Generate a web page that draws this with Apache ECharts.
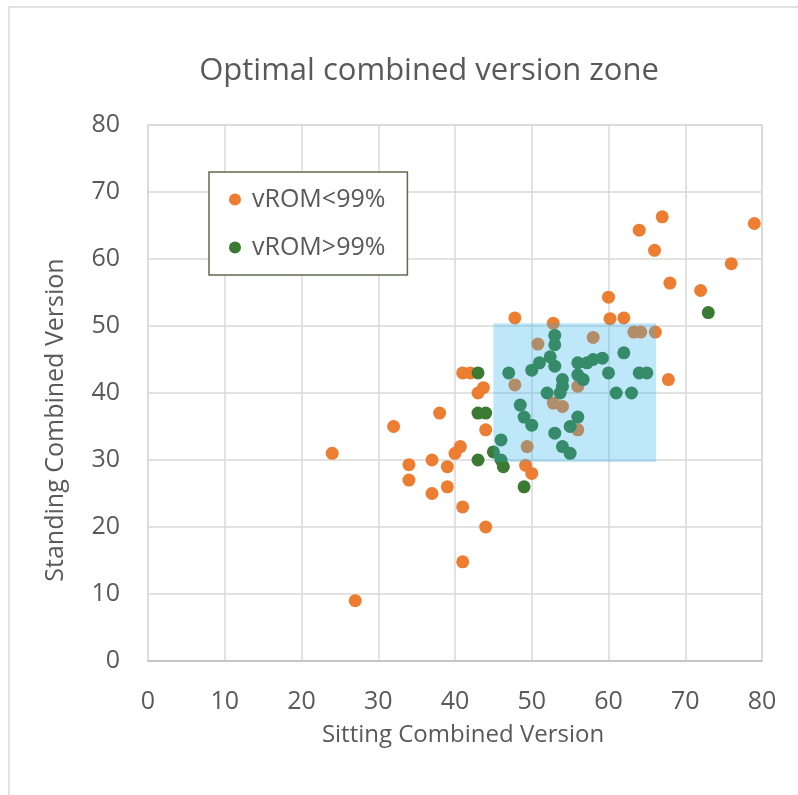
<!DOCTYPE html>
<html>
<head>
<meta charset="utf-8">
<script src="https://cdn.jsdelivr.net/npm/echarts@6/dist/echarts.min.js"></script>
<style>
html,body{margin:0;padding:0;background:#fff;}
#main{width:798px;height:795px;}
</style>
</head>
<body>
<div id="main"></div>
<script>
const titleText = "Optimal combined version zone";
const xAxisName = "Sitting Combined Version";
const yAxisName = "Standing Combined Version";
const seriesNames = ["vROM<99%", "vROM>99%"];
const xTicks = [0, 80, 10];
const yTicks = [0, 80, 10];
const zone = [[45, 29.7], [66.2, 50.4]];

const below99 = [
  [27,9],[24,31],[32,35],[34,29.3],[34,27],[37,30],[37,25],[38,37],[39,29],[39,26],
  [40,31],[40.7,32],[41,23],[41,14.8],[44,20],[41,43],[42,43],[43.7,40.8],[43,40],[44,34.5],
  [47.8,51.2],[50.8,47.3],[52.8,50.4],[47.8,41.2],[49.4,32],[49.2,29.2],[50,28],[52.8,38.5],[54,38],[56,41],
  [56,34.5],[58,48.3],[60,54.3],[60.2,51.1],[62,51.2],[63.3,49.1],[64.2,49.1],[66.1,49.1],[67.8,42],[64,64.3],
  [67,66.3],[66,61.3],[68,56.4],[72,55.3],[76,59.3],[79,65.3]
];
const above99 = [
  [43,43],[43,37],[44,37],[46,33],[45,31.2],[43,30],[46,30],[46.3,29],[49,26],[47,43],
  [50,43.4],[51,44.5],[52.4,45.4],[53,48.6],[53,47.2],[53,44],[56,44.5],[57.2,44.5],[58,45],[59.2,45.2],
  [62,46],[60,43],[64,43],[65,43],[56,42.7],[56.7,42],[54,42],[54,41],[53.7,40],[52,40],
  [61,40],[63,40],[48.5,38.2],[49,36.4],[50,35.2],[53,34],[55,35],[56,36.4],[54,32],[55,31],
  [73,52]
];

const chart = echarts.init(document.getElementById('main'));
const txt = '#595959';
const font = "'Open Sans', 'Noto Sans', sans-serif";
chart.setOption({
  backgroundColor: '#ffffff',
  animation: false,
  textStyle: { fontFamily: font },
  graphic: [{
    type: 'rect', shape: { x: 9, y: 7, width: 820, height: 820 },
    style: { fill: 'none', stroke: '#d9d9d9', lineWidth: 1.5 }, silent: true, z: -10
  }],
  title: {
    text: titleText, left: 424, top: 51, textAlign: 'center',
    textStyle: { fontFamily: font, fontSize: 31, fontWeight: 'normal', color: txt }
  },
  legend: {
    orient: 'vertical', left: 209, top: 172, padding: [15, 22, 15, 20], itemGap: 23,
    itemWidth: 12, itemHeight: 12, icon: 'circle',
    backgroundColor: '#ffffff', borderColor: '#5e6b4e', borderWidth: 1.5,
    textStyle: { fontFamily: font, fontSize: 25, color: txt, padding: [0, 0, 0, 6] },
    data: seriesNames
  },
  grid: { left: 148, right: 36, top: 125, bottom: 134, show: true, borderColor: '#d9d9d9', borderWidth: 1.5 },
  xAxis: {
    type: 'value', min: xTicks[0], max: xTicks[1], interval: xTicks[2],
    name: xAxisName, nameLocation: 'middle', nameGap: 62,
    nameTextStyle: { fontFamily: font, fontSize: 24, color: txt, padding: [0, 0, 0, 16] },
    axisLine: { show: true, lineStyle: { color: '#bfbfbf', width: 1.5 } },
    axisTick: { show: false },
    axisLabel: { fontFamily: font, fontSize: 25, color: txt, margin: 28 },
    splitLine: { show: true, lineStyle: { color: '#d9d9d9', width: 1.5 } }
  },
  yAxis: {
    type: 'value', min: yTicks[0], max: yTicks[1], interval: yTicks[2],
    name: yAxisName, nameLocation: 'middle', nameGap: 80,
    nameTextStyle: { fontFamily: font, fontSize: 25, color: txt, padding: [0, 54, 0, 0] },
    axisLine: { show: false },
    axisTick: { show: false },
    axisLabel: { fontFamily: font, fontSize: 25, color: txt, margin: 28 },
    splitLine: { show: true, lineStyle: { color: '#d9d9d9', width: 1.5 } }
  },
  series: [
    {
      name: seriesNames[0], type: 'scatter', symbolSize: 13, z: 2,
      itemStyle: { color: '#ED7D31', opacity: 1 }, data: below99
    },
    {
      name: seriesNames[1], type: 'scatter', symbolSize: 13, z: 2,
      itemStyle: { color: '#3b7a33', opacity: 1 }, data: above99
    },
    {
      name: 'zone', type: 'scatter', data: [], z: 5, silent: true,
      markArea: {
        silent: true, z: 10,
        itemStyle: { color: 'rgba(40,180,235,0.3)' },
        data: [[{ coord: zone[0] }, { coord: zone[1] }]]
      }
    }
  ]
});
</script>
</body>
</html>
